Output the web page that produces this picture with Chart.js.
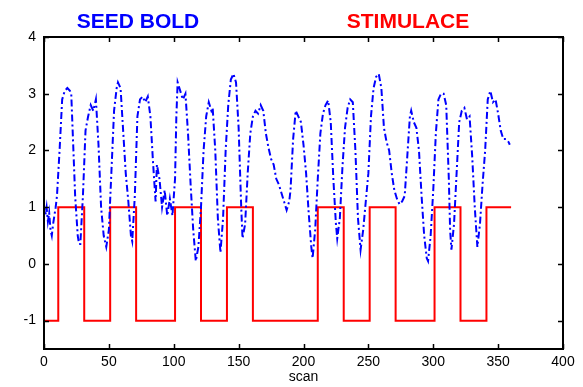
<!DOCTYPE html>
<html>
<head>
<meta charset="utf-8">
<script src="https://cdn.jsdelivr.net/npm/chart.js@4.4.0/dist/chart.umd.min.js"></script>
<style>
  html, body { margin: 0; padding: 0; background: #fff; }
  #wrap { width: 583px; height: 387px; position: relative; }
</style>
</head>
<body>
<div id="wrap"><canvas id="myChart"></canvas></div>
<script>
// BOLD signal (scan, value)
const boldScans = [0,1,2,3,4,5,6,7,8,9,10,12,14,16,18,20,21,22,24,26,27,28,30,32,34,36,38,40,42,44,46,48,50,52,54,56,57,59,61,63,65,67,68,70,72,74,76,78,80,82,84,86,87,89,91,93,95,97,99,101,102,103,105,107,109,111,113,115,117,119,121,123,125,127,129,130,132,134,136,138,140,142,144,146,148,150,152,153,155,157,159,161,163,165,167,169,171,173,175,177,179,181,183,185,187,189,190,192,194,196,198,200,202,204,206,207,209,211,213,215,217,219,221,223,225,226,228,230,232,234,236,238,240,242,244,246,248,250,252,254,256,258,260,262,264,266,268,270,272,274,276,278,280,282,283,285,287,289,291,293,295,296,298,300,302,304,306,308,310,312,313,314,316,318,320,322,324,326,328,330,332,334,336,338,340,342,344,346,348,350,352,354,356,358,359];
const boldValues = [1.0,0.85,1.0,0.75,0.9,0.6,0.5,0.7,0.85,1.0,1.2,2.0,2.9,3.05,3.1,3.05,3.0,2.4,1.2,0.5,0.35,0.35,1.2,2.35,2.6,2.8,2.7,2.9,2.1,1.0,0.5,0.3,0.6,1.65,2.7,3.1,3.2,3.1,2.35,1.6,1.1,0.5,0.4,1.2,2.6,2.9,2.95,2.85,2.95,2.6,1.8,1.1,1.75,1.5,1.0,1.3,0.85,1.15,0.85,1.5,2.6,3.2,3.05,2.9,3.0,2.3,1.4,0.6,0.05,0.3,1.0,2.0,2.6,2.85,2.7,2.75,2.0,0.8,0.2,0.8,2.0,2.8,3.25,3.35,3.2,2.4,1.0,0.45,0.7,1.6,2.3,2.6,2.7,2.65,2.8,2.7,2.3,2.05,1.85,1.75,1.5,1.4,1.25,1.1,0.95,1.1,1.3,2.2,2.7,2.6,2.5,2.1,1.6,0.9,0.3,0.1,0.6,1.5,2.3,2.65,2.8,2.88,2.5,1.5,0.7,0.45,0.8,1.7,2.4,2.75,2.9,2.85,2.0,0.8,0.25,0.6,1.1,1.6,2.6,3.1,3.3,3.35,3.1,2.4,2.15,2.0,1.6,1.3,1.15,1.05,1.1,1.2,1.9,2.6,2.7,2.5,2.4,2.0,1.2,0.5,0.1,0.05,0.5,1.3,2.3,2.9,3.0,3.0,2.8,1.5,0.6,0.25,0.7,1.6,2.5,2.7,2.75,2.55,2.6,1.9,1.0,0.3,0.7,1.4,2.0,2.9,3.05,2.85,2.9,2.65,2.35,2.2,2.2,2.15,2.1];

// stimulus: scan where each block starts and its level
const stimScans = [0,11,31,51,71,101,121,141,161,211,231,251,271,301,321,341,360];
const stimLevels = [-1,1,-1,1,-1,1,-1,1,-1,1,-1,1,-1,1,-1,1,1];

const xTicks = [0,50,100,150,200,250,300,350,400];
const yTicks = [-1,0,1,2,3,4];

const boldData = boldScans.map((s, i) => ({ x: s, y: boldValues[i] }));
const stimData = stimScans.map((s, i) => ({ x: s, y: stimLevels[i] }));

// MATLAB style frame with inner ticks plus the two coloured headings
const framePlugin = {
    id: 'frame',
    afterDraw(chart) {
        const ctx = chart.ctx;
        const a = chart.chartArea;
        const xs = chart.scales.x;
        const ys = chart.scales.y;
        ctx.save();
        ctx.strokeStyle = '#000';
        ctx.lineWidth = 1.5;
        ctx.beginPath();
        xTicks.forEach(v => {
            const px = Math.round(xs.getPixelForValue(v)) + 0.5;
            ctx.moveTo(px, a.bottom); ctx.lineTo(px, a.bottom - 5);
            ctx.moveTo(px, a.top); ctx.lineTo(px, a.top + 5);
        });
        yTicks.forEach(v => {
            const py = Math.round(ys.getPixelForValue(v)) + 0.5;
            ctx.moveTo(a.left, py); ctx.lineTo(a.left + 5, py);
            ctx.moveTo(a.right, py); ctx.lineTo(a.right - 5, py);
        });
        ctx.stroke();
        ctx.lineWidth = 2;
        ctx.strokeRect(a.left, a.top, a.right - a.left, a.bottom - a.top);

        ctx.font = 'bold 21px "Liberation Sans", Arial, sans-serif';
        ctx.textAlign = 'center';
        ctx.textBaseline = 'alphabetic';
        ctx.fillStyle = '#0000ff';
        ctx.fillText('SEED BOLD', 138, 28);
        ctx.fillStyle = '#ff0000';
        ctx.fillText('STIMULACE', 408, 28);
        ctx.restore();
    }
};

const tickFont = { family: '"Liberation Sans", Arial, sans-serif', size: 14 };

new Chart(document.getElementById('myChart').getContext('2d'), {
    type: 'line',
    data: {
        datasets: [{
            label: 'SEED BOLD',
            data: boldData,
            borderColor: '#0000ff',
            borderWidth: 2,
            borderDash: [7, 3, 2, 3],
            pointRadius: 0,
            fill: false,
            tension: 0
        }, {
            label: 'STIMULACE',
            data: stimData,
            borderColor: '#ff0000',
            borderWidth: 2,
            stepped: true,
            pointRadius: 0,
            fill: false
        }]
    },
    options: {
        responsive: true,
        maintainAspectRatio: false,
        animation: false,
        events: [],
        layout: { padding: { top: 37, right: 20, bottom: 1, left: 0 } },
        plugins: { legend: { display: false }, tooltip: { enabled: false } },
        scales: {
            x: {
                type: 'linear',
                min: 0,
                max: 400,
                afterBuildTicks: s => { s.ticks = xTicks.map(v => ({ value: v })); },
                afterFit: s => { s.height = 37; },
                grid: { display: false, drawTicks: false },
                border: { display: false },
                ticks: { color: '#000', font: tickFont, padding: 5, maxRotation: 0 },
                title: { display: true, text: 'scan', color: '#000', font: tickFont, padding: 0 }
            },
            y: {
                type: 'linear',
                min: -1.5,
                max: 4,
                afterBuildTicks: s => { s.ticks = yTicks.map(v => ({ value: v })); },
                afterFit: s => { s.width = 44; },
                grid: { display: false, drawTicks: false },
                border: { display: false },
                ticks: { color: '#000', font: tickFont, padding: 8 }
            }
        }
    },
    plugins: [framePlugin]
});
</script>
</body>
</html>
